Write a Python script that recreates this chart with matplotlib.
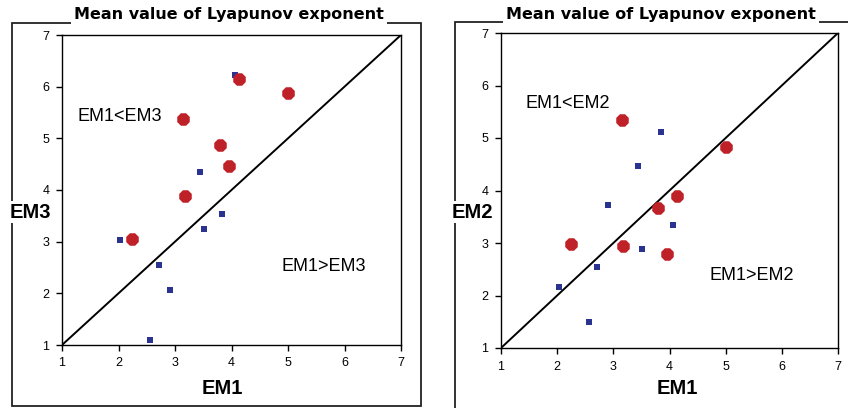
import matplotlib
matplotlib.use("Agg")
import matplotlib.pyplot as plt
from matplotlib.patches import Rectangle

# EM1 values of the two point groups (shared by both panels)
em1_blue = [2.03, 2.56, 2.71, 2.91, 3.44, 3.51, 3.84, 4.07]
em1_red = [2.24, 3.15, 3.17, 3.79, 3.95, 4.14, 5.0]

# left panel: EM3
em3_blue = [3.03, 1.10, 2.54, 2.06, 4.35, 3.24, 3.53, 6.22]
em3_red = [3.05, 5.37, 3.88, 4.88, 4.47, 6.14, 5.87]

# right panel: EM2
em2_blue = [2.16, 1.50, 2.54, 3.72, 4.47, 2.89, 5.11, 3.34]
em2_red = [2.98, 5.34, 2.95, 3.67, 2.80, 3.90, 4.82]

ticks = [1, 2, 3, 4, 5, 6, 7]
title = "Mean value of Lyapunov exponent"

RED = "#BF2128"
BLUE = "#2B3391"
W, H = 848, 408

plt.rcParams["font.family"] = ["Liberation Sans", "DejaVu Sans"]

fig = plt.figure(figsize=(W / 100, H / 100), dpi=100)


def px_box(x0, y0, x1, y1):
    # pixel box (top-left origin) -> figure fraction rect
    return [x0 / W, (H - y1) / H, (x1 - x0) / W, (y1 - y0) / H]


def panel(rect, frame, title_x, yb, yr, ylab, ylab_x, xlab_x,
          upper, upper_xy, lower, lower_xy):
    # outer frame around the panel
    fx0, fy0, fx1, fy1 = frame
    fig.patches.append(Rectangle((fx0 / W, (H - fy1) / H), (fx1 - fx0) / W, (fy1 - fy0) / H,
                                 transform=fig.transFigure, fill=False, lw=1.3,
                                 edgecolor="#222222", zorder=0))
    fig.text(title_x / W, 1 - 15 / H, title, ha="center", va="center",
             fontsize=11.5, fontweight="bold", family=["DejaVu Sans"],
             bbox=dict(facecolor="white", edgecolor="none", pad=2))

    ax = fig.add_axes(px_box(*rect))
    ax.plot([1, 7], [1, 7], color="black", lw=1.4, zorder=2)
    ax.scatter(em1_blue, yb, marker="s", s=24, color=BLUE, zorder=3, linewidths=0)
    ax.scatter(em1_red, yr, marker="8", s=95, color=RED, zorder=4, linewidths=0)
    ax.set_xlim(1, 7)
    ax.set_ylim(1, 7)
    ax.set_xticks(ticks)
    ax.set_yticks(ticks)
    ax.tick_params(direction="out", length=4, width=1, labelsize=9, pad=5)
    for s in ax.spines.values():
        s.set_linewidth(1.0)
    ax.text(upper_xy[0], upper_xy[1], upper, ha="center", va="center", fontsize=13)
    ax.text(lower_xy[0], lower_xy[1], lower, ha="center", va="center", fontsize=13)
    fig.text(xlab_x / W, 1 - 388 / H, "EM1", ha="center", va="center", fontsize=14.5,
             fontweight="bold")
    fig.text(ylab_x / W, 1 - 212 / H, ylab, ha="center", va="center", fontsize=14.5,
             fontweight="bold",
             bbox=dict(facecolor="white", edgecolor="none", pad=1))
    return ax


panel((62, 35, 401, 345), (12, 23, 421, 406), 229, em3_blue, em3_red, "EM3", 30, 222,
      "EM1<EM3", (2.02, 5.43), "EM1>EM3", (5.64, 2.51))
panel((501, 33, 838, 348), (455, 22, 852, 412), 661, em2_blue, em2_red, "EM2", 472, 677,
      "EM1<EM2", (2.18, 5.65), "EM1>EM2", (5.47, 2.39))

fig.savefig("out.png", dpi=100, facecolor="white")
